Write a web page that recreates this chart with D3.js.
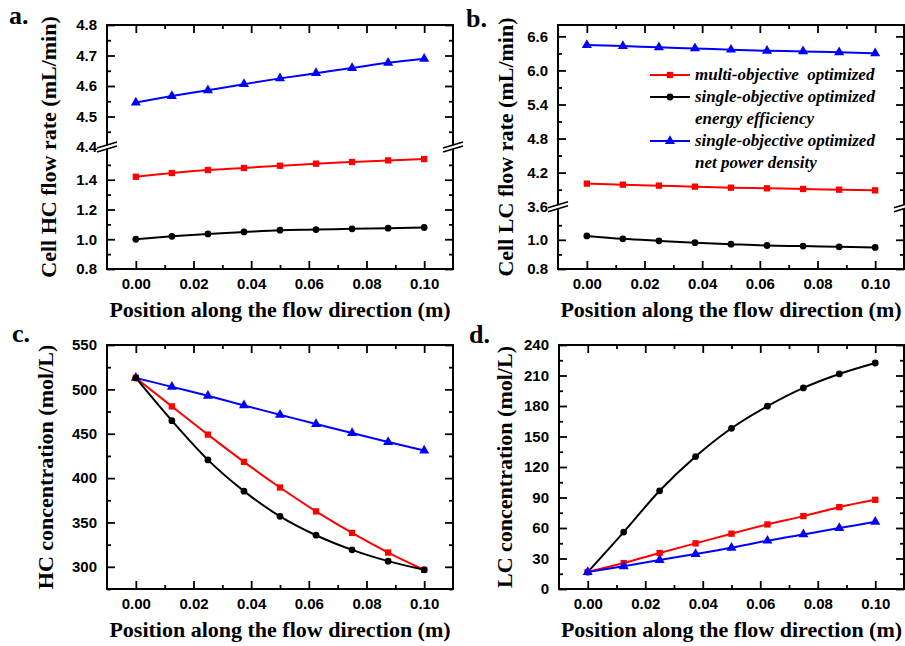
<!DOCTYPE html>
<html>
<head>
<meta charset="utf-8">
<script src="https://cdn.jsdelivr.net/npm/d3@7"></script>
<style>
  html, body { margin: 0; padding: 0; background: #ffffff; }
  svg { display: block; }
</style>
</head>
<body>
<svg id="chart" width="905" height="646"></svg>
<script>
// Positions along the channel (m)
const xPositions = [0, 0.0125, 0.025, 0.0375, 0.05, 0.0625, 0.075, 0.0875, 0.1];
const xMajorTicks = [0, 0.02, 0.04, 0.06, 0.08, 0.10];
const xMinorTicks = [0.01, 0.03, 0.05, 0.07, 0.09];

// Legend entries (one or two lines each)
const legendLabels = [
  ["multi-objective  optimized"],
  ["single-objective optimized", "energy efficiency"],
  ["single-objective optimized", "net power density"]
];

// a. Cell HC flow rate (mL/min)
const hcFlowMulti  = [1.420, 1.445, 1.465, 1.479, 1.494, 1.508, 1.519, 1.530, 1.539];
const hcFlowEnergy = [1.000, 1.020, 1.036, 1.049, 1.061, 1.065, 1.070, 1.074, 1.079];
const hcFlowPower  = [4.546, 4.567, 4.586, 4.606, 4.625, 4.642, 4.659, 4.676, 4.689];

// b. Cell LC flow rate (mL/min)
const lcFlowMulti  = [4.006, 3.988, 3.971, 3.953, 3.935, 3.924, 3.912, 3.900, 3.888];
const lcFlowEnergy = [1.027, 1.007, 0.993, 0.980, 0.970, 0.961, 0.957, 0.952, 0.948];
const lcFlowPower  = [6.447, 6.429, 6.406, 6.388, 6.365, 6.347, 6.335, 6.318, 6.300];

// c. HC concentration (mol/L)
const hcConcMulti  = [512.9, 480.8, 449.0, 418.3, 389.4, 362.5, 338.2, 316.1, 296.6];
const hcConcEnergy = [512.9, 464.7, 420.5, 385.3, 356.9, 335.6, 319.1, 306.4, 296.6];
const hcConcPower  = [512.9, 502.8, 492.7, 481.9, 471.4, 460.9, 450.8, 440.7, 431.0];

// d. LC concentration (mol/L)
const lcConcMulti  = [16.7, 25.5, 35.4, 44.9, 54.4, 63.5, 71.7, 80.5, 87.7];
const lcConcEnergy = [16.7, 56.0, 96.6, 130.3, 158.1, 179.8, 197.8, 211.5, 222.3];
const lcConcPower  = [16.7, 22.3, 28.5, 34.4, 40.6, 47.5, 53.7, 59.9, 66.1];

// y-axis tick values
const aLowerMajor = [0.8, 1.0, 1.2, 1.4], aLowerMinor = [0.9, 1.1, 1.3, 1.5];
const aUpperMajor = [4.5, 4.6, 4.7, 4.8], aUpperMinor = [4.45, 4.55, 4.65, 4.75];
const bLowerMajor = [0.8, 1.0], bLowerMinor = [0.9, 1.1];
const bUpperMajor = [4.2, 4.8, 5.4, 6.0, 6.6], bUpperMinor = [3.9, 4.5, 5.1, 5.7, 6.3];
const cMajor = [300, 350, 400, 450, 500, 550], cMinor = [275, 325, 375, 425, 475, 525];
const dMajor = [0, 30, 60, 90, 120, 150, 180, 210, 240], dMinor = [15, 45, 75, 105, 135, 165, 195, 225];

const RED = "#ff0000", BLACK = "#000000", BLUE = "#0000ff";
const SANS = "'Liberation Sans', Arial, sans-serif";
const SERIF = "'Liberation Serif', 'Times New Roman', serif";

const svg = d3.select("#chart");

const panels = [
  {
    letter: "a.", letterX: 9, letterY: 24,
    left: 107, right: 453, top: 25, bottom: 269,
    yTitle: "Cell HC flow rate (mL/min)", yTitleX: 48,
    fmt: d3.format(".1f"),
    segments: [
      { domain: [0.8, 1.62], major: aLowerMajor, minor: aLowerMinor },
      { domain: [4.4, 4.8], major: aUpperMajor, minor: aUpperMinor }
    ],
    breakY: 147, breakLabel: 4.4,
    series: [
      { values: hcFlowMulti, color: RED, shape: d3.symbolSquare },
      { values: hcFlowEnergy, color: BLACK, shape: d3.symbolCircle },
      { values: hcFlowPower, color: BLUE, shape: d3.symbolTriangle }
    ]
  },
  {
    letter: "b.", letterX: 466, letterY: 27,
    left: 558, right: 904, top: 25, bottom: 269,
    yTitle: "Cell LC flow rate (mL/min)", yTitleX: 505,
    fmt: d3.format(".1f"),
    segments: [
      { domain: [0.8, 1.227], major: bLowerMajor, minor: bLowerMinor },
      { domain: [3.6, 6.8], major: bUpperMajor, minor: bUpperMinor }
    ],
    breakY: 206.7, breakLabel: 3.6,
    legend: true,
    series: [
      { values: lcFlowMulti, color: RED, shape: d3.symbolSquare },
      { values: lcFlowEnergy, color: BLACK, shape: d3.symbolCircle },
      { values: lcFlowPower, color: BLUE, shape: d3.symbolTriangle }
    ]
  },
  {
    letter: "c.", letterX: 12, letterY: 342,
    left: 107, right: 453, top: 345, bottom: 589,
    yTitle: "HC concentration (mol/L)", yTitleX: 45,
    fmt: d3.format("d"),
    segments: [{ domain: [275, 550], major: cMajor, minor: cMinor }],
    series: [
      { values: hcConcPower, color: BLUE, shape: d3.symbolTriangle },
      { values: hcConcMulti, color: RED, shape: d3.symbolSquare },
      { values: hcConcEnergy, color: BLACK, shape: d3.symbolCircle }
    ]
  },
  {
    letter: "d.", letterX: 469, letterY: 343,
    left: 559, right: 904, top: 345, bottom: 589,
    yTitle: "LC concentration (mol/L)", yTitleX: 504,
    fmt: d3.format("d"),
    segments: [{ domain: [0, 240], major: dMajor, minor: dMinor }],
    series: [
      { values: lcConcEnergy, color: BLACK, shape: d3.symbolCircle },
      { values: lcConcMulti, color: RED, shape: d3.symbolSquare },
      { values: lcConcPower, color: BLUE, shape: d3.symbolTriangle }
    ]
  }
];

function symbolSize(shape) {
  if (shape === d3.symbolSquare) return 40;
  if (shape === d3.symbolCircle) return 36;
  return 44;
}

function styleAxis(g) {
  g.select(".domain").remove();
  g.selectAll(".tick line").attr("stroke", "#000").attr("stroke-width", 1.8);
  g.selectAll(".tick text")
    .attr("font-family", SANS).attr("font-weight", "bold")
    .attr("font-size", 15).attr("fill", "#000");
}

function drawBreak(g, x, y) {
  const w = 10, rise = 3, gap = 4;
  g.append("path")
    .attr("d", `M${x - w},${y + rise - gap / 2 + 0.5} L${x + w},${y - rise - gap / 2 + 0.5} L${x + w},${y - rise + gap / 2 - 0.5} L${x - w},${y + rise + gap / 2 - 0.5} Z`)
    .attr("fill", "#fff");
  [-gap / 2, gap / 2].forEach(o => {
    g.append("line")
      .attr("x1", x - w).attr("y1", y + rise + o)
      .attr("x2", x + w).attr("y2", y - rise + o)
      .attr("stroke", "#000").attr("stroke-width", 1.6);
  });
}

panels.forEach(p => {
  const g = svg.append("g");
  const x = d3.scaleLinear().domain([-0.01, 0.11]).range([p.left, p.right]);

  // Vertical scales: one per axis segment (two when the axis is broken)
  let scales;
  const breakY = p.segments.length === 2 ? p.breakY : null;
  if (breakY !== null) {
    scales = [
      d3.scaleLinear().domain(p.segments[0].domain).range([p.bottom, breakY]),
      d3.scaleLinear().domain(p.segments[1].domain).range([breakY, p.top])
    ];
  } else {
    scales = [d3.scaleLinear().domain(p.segments[0].domain).range([p.bottom, p.top])];
  }
  const yOf = v => {
    if (scales.length === 1) return scales[0](v);
    return v <= p.segments[0].domain[1] ? scales[0](v) : scales[1](v);
  };

  // x ticks (inward on bottom and top)
  g.append("g").attr("transform", `translate(0,${p.bottom})`)
    .call(d3.axisBottom(x).tickValues(xMajorTicks).tickSize(-8).tickPadding(9).tickFormat(d3.format(".2f")))
    .call(styleAxis);
  g.append("g").attr("transform", `translate(0,${p.bottom})`)
    .call(d3.axisBottom(x).tickValues(xMinorTicks).tickSize(-4).tickFormat(""))
    .call(styleAxis);
  g.append("g").attr("transform", `translate(0,${p.top})`)
    .call(d3.axisTop(x).tickValues(xMajorTicks).tickSize(-8).tickFormat(""))
    .call(styleAxis);
  g.append("g").attr("transform", `translate(0,${p.top})`)
    .call(d3.axisTop(x).tickValues(xMinorTicks).tickSize(-4).tickFormat(""))
    .call(styleAxis);

  // y ticks (inward on left and right), per segment
  p.segments.forEach((seg, i) => {
    const s = scales[i];
    g.append("g").attr("transform", `translate(${p.left},0)`)
      .call(d3.axisLeft(s).tickValues(seg.major).tickSize(-8).tickPadding(10).tickFormat(p.fmt))
      .call(styleAxis);
    g.append("g").attr("transform", `translate(${p.left},0)`)
      .call(d3.axisLeft(s).tickValues(seg.minor).tickSize(-4).tickFormat(""))
      .call(styleAxis);
    g.append("g").attr("transform", `translate(${p.right},0)`)
      .call(d3.axisRight(s).tickValues(seg.major).tickSize(-8).tickFormat(""))
      .call(styleAxis);
    g.append("g").attr("transform", `translate(${p.right},0)`)
      .call(d3.axisRight(s).tickValues(seg.minor).tickSize(-4).tickFormat(""))
      .call(styleAxis);
  });

  // Frame
  g.append("rect")
    .attr("x", p.left).attr("y", p.top)
    .attr("width", p.right - p.left).attr("height", p.bottom - p.top)
    .attr("fill", "none").attr("stroke", "#000").attr("stroke-width", 2);

  // Axis break marks and the label at the break
  if (breakY !== null) {
    drawBreak(g, p.left, breakY);
    drawBreak(g, p.right, breakY);
    g.append("text")
      .attr("x", p.left - 10).attr("y", breakY).attr("dy", "0.32em")
      .attr("text-anchor", "end")
      .attr("font-family", SANS).attr("font-weight", "bold").attr("font-size", 15)
      .text(p.fmt(p.breakLabel));
  }

  // Series lines and markers
  p.series.forEach(s => {
    const pts = xPositions.map((xv, i) => [x(xv), yOf(s.values[i])]);
    g.append("path")
      .attr("d", d3.line().curve(d3.curveMonotoneX)(pts))
      .attr("fill", "none").attr("stroke", s.color).attr("stroke-width", 2);
    g.selectAll(null).data(pts).enter().append("path")
      .attr("transform", d => `translate(${d[0]},${d[1]})`)
      .attr("d", d3.symbol().type(s.shape).size(symbolSize(s.shape)))
      .attr("fill", s.color);
  });

  // Axis titles
  g.append("text")
    .attr("x", (p.left + p.right) / 2).attr("y", p.bottom + 48)
    .attr("text-anchor", "middle")
    .attr("font-family", SERIF).attr("font-weight", "bold").attr("font-size", 22)
    .text("Position along the flow direction (m)");
  g.append("text")
    .attr("transform", `translate(${p.yTitleX},${(p.top + p.bottom) / 2}) rotate(-90)`)
    .attr("dy", "0.35em")
    .attr("text-anchor", "middle")
    .attr("font-family", SERIF).attr("font-weight", "bold").attr("font-size", 22)
    .text(p.yTitle);

  // Panel letter
  g.append("text")
    .attr("x", p.letterX).attr("y", p.letterY)
    .attr("font-family", SERIF).attr("font-weight", "bold").attr("font-size", 26)
    .text(p.letter);

  // Legend
  if (p.legend) {
    const lx0 = 650, lx1 = 690, tx = 695;
    const rowY = [75, 97, 141];
    p.series.forEach((s, i) => {
      const y = rowY[i];
      g.append("line").attr("x1", lx0).attr("x2", lx1).attr("y1", y).attr("y2", y)
        .attr("stroke", s.color).attr("stroke-width", 2);
      g.append("path")
        .attr("transform", `translate(${(lx0 + lx1) / 2},${y})`)
        .attr("d", d3.symbol().type(s.shape).size(symbolSize(s.shape)))
        .attr("fill", s.color);
      legendLabels[i].forEach((line, j) => {
        g.append("text")
          .attr("x", tx).attr("y", y + j * 22).attr("dy", "0.3em")
          .attr("font-family", SERIF).attr("font-weight", "bold")
          .attr("font-style", "italic").attr("font-size", 17)
          .attr("xml:space", "preserve")
          .style("white-space", "pre")
          .text(line);
      });
    });
  }
});
</script>
</body>
</html>
